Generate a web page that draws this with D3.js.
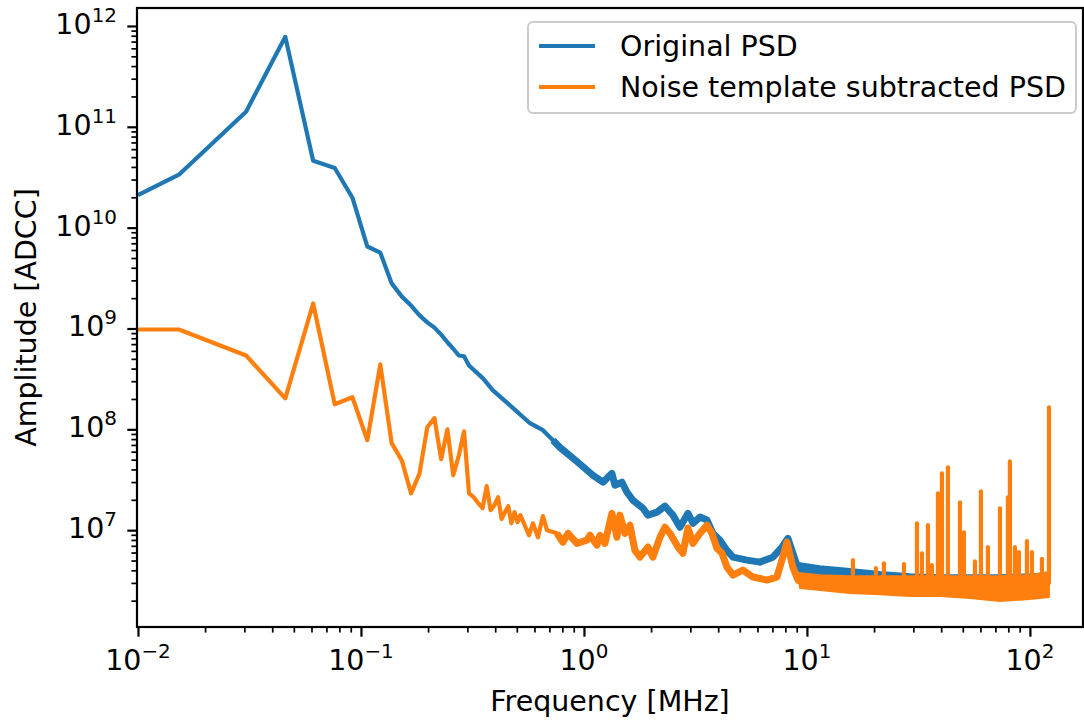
<!DOCTYPE html>
<html>
<head>
<meta charset="utf-8">
<script src="https://cdn.jsdelivr.net/npm/d3@7"></script>
<style>
body { margin: 0; background: #fff; }
svg { display: block; }
text { font-family: "DejaVu Sans", sans-serif; fill: #000; }
</style>
</head>
<body>
<div id="chart"></div>
<script>
// ---- data ----
var seriesNames = ["Original PSD", "Noise template subtracted PSD"];

var blueFreq = [0.01, 0.01526, 0.03052, 0.04578, 0.06104, 0.0763, 0.09155, 0.1068, 0.1221, 0.1373,
    0.1526, 0.1678, 0.1831, 0.1984, 0.2136, 0.2289, 0.2441, 0.2594, 0.2747, 0.2899,
    0.3052, 0.3525, 0.3907, 0.4659, 0.5726, 0.6548, 0.7261, 0.7806, 0.839, 0.94,
    1.098, 1.217, 1.335, 1.377, 1.481, 1.559, 1.658, 1.839, 1.936, 2.126,
    2.308, 2.506, 2.695, 2.927, 3.083, 3.313, 3.561, 3.788, 4.073, 4.378,
    4.658, 5.38, 6.156, 7.04, 7.73, 8.22, 8.65, 9.11, 10.0, 11.44, 20, 60, 121.7];
var blueAmp = [2.1e10, 3.35e10, 1.41e11, 7.8e11, 4.6e10, 3.9e10, 1.98e10, 6.5e9, 5.65e9, 2.8e9,
    2.07e9, 1.69e9, 1.35e9, 1.15e9, 1.02e9, 8.7e8, 7.3e8, 6.3e8, 5.4e8, 5.3e8,
    4.3e8, 3.2e8, 2.43e8, 1.73e8, 1.15e8, 9.8e7, 7.8e7, 6.6e7, 5.8e7, 4.7e7,
    3.5e7, 2.99e7, 3.66e7, 2.79e7, 2.99e7, 2.38e7, 1.98e7, 1.65e7, 1.41e7, 1.51e7,
    1.73e7, 1.41e7, 1.07e7, 1.47e7, 1.17e7, 1.35e7, 1.26e7, 9.3e6, 7.96e6, 6.3e6,
    5.4e6, 5.05e6, 4.82e6, 5.4e6, 6.8e6, 8.3e6, 5.9e6, 4.2e6, 4.02e6, 3.84e6, 3.43e6, 3.12e6, 3.2e6];

var orangeFreq = [0.01, 0.01526, 0.03052, 0.04578, 0.06104, 0.0763, 0.09155, 0.1068, 0.1221, 0.1373,
    0.1526, 0.1678, 0.1831, 0.1984, 0.2136, 0.2289, 0.2441, 0.2594, 0.2747, 0.2899,
    0.3052, 0.3204, 0.3357, 0.351, 0.3662, 0.3815, 0.3967, 0.412, 0.4272, 0.4425,
    0.4578, 0.473, 0.4883, 0.5035, 0.5188, 0.5667, 0.5905, 0.6218, 0.6548, 0.6825,
    0.7568, 0.8051, 0.8478, 0.9303, 1.031, 1.064, 1.144, 1.18, 1.242, 1.335,
    1.406, 1.45, 1.527, 1.608, 1.693, 1.783, 1.936, 2.039, 2.192, 2.308,
    2.431, 2.64, 2.779, 2.927, 3.083, 3.313, 3.561, 3.75, 3.949, 4.159,
    4.378, 4.658, 5.164, 5.727, 6.616, 7.336, 7.726, 8.136, 8.65, 9.11, 10.0, 20, 60, 121.7];
var orangeAmp = [9.77e8, 9.77e8, 5.4e8, 2.03e8, 1.77e9, 1.77e8, 2.08e8, 7.8e7, 4.4e8, 7.3e7,
    4.9e7, 2.32e7, 3.66e7, 1.05e8, 1.29e8, 5.05e7, 1.0e8, 3.5e7, 5.5e7, 9.55e7,
    2.32e7, 2.12e7, 1.85e7, 1.65e7, 2.73e7, 1.58e7, 1.77e7, 2.12e7, 1.29e7, 1.51e7,
    1.73e7, 1.17e7, 1.51e7, 1.2e7, 1.41e7, 8.9e6, 1.17e7, 8.5e6, 1.38e7, 1.0e7,
    9.3e6, 7.6e6, 9.3e6, 7.4e6, 7.96e6, 8.9e6, 7.1e6, 8.9e6, 7.4e6, 1.47e7,
    8.5e6, 1.41e7, 9.3e6, 1.12e7, 6.3e6, 5.4e6, 6.8e6, 5.4e6, 8.5e6, 1.07e7,
    9.3e6, 6.8e6, 5.9e6, 1.05e7, 7.4e6, 9.3e6, 1.12e7, 9.3e6, 6.6e6, 5.9e6,
    4.3e6, 3.58e6, 4.02e6, 3.43e6, 3.2e6, 3.43e6, 5.05e6, 7.6e6, 4.3e6, 3.2e6, 2.85e6, 2.86e6, 2.73e6, 2.86e6];

// spread of the dense trace above ~9 MHz
var bandFreq = [9.30, 11.44, 15.59, 21.26, 28.97, 39.49, 53.81, 73.39, 100, 121.7];
var blueBandHi = [4.71e6, 4.4e6, 4.11e6, 3.84e6, 3.66e6, 3.58e6, 3.58e6, 3.58e6, 3.66e6, 3.75e6];
var blueBandLo = [3.75e6, 3.2e6, 3.05e6, 2.92e6, 2.79e6, 2.67e6, 2.67e6, 2.67e6, 2.73e6, 2.79e6];
var orangeBandHi = [3.75e6, 3.58e6, 3.5e6, 3.5e6, 3.5e6, 3.5e6, 3.5e6, 3.5e6, 3.58e6, 3.84e6];
var orangeBandLo = [2.67e6, 2.55e6, 2.38e6, 2.32e6, 2.22e6, 2.22e6, 2.12e6, 1.98e6, 2.08e6, 2.17e6];
var noisyFrom = 0.7;   // above this the trace is a fuzzy, wider stroke

// narrow lines in the subtracted PSD
var spikeFreq = [16.08, 20.39, 22.14, 27.23, 31.14, 32.79, 34.88, 36.35, 38.68, 40.31, 42.88, 48.55, 50.58,
    56.68, 60.30, 64.80, 73.39, 79.66, 81.32, 85.63, 89.27, 96.94, 102.1, 113.2, 121.7];
var spikeAmp = [5.05e6, 4.2e6, 4.7e6, 4.6e6, 1.17e7, 5.9e6, 1.12e7, 4.5e6, 2.32e7, 3.66e7, 4.2e7, 1.89e7, 9.5e6,
    4.9e6, 2.43e7, 6.8e6, 1.65e7, 2.12e7, 4.8e7, 6.8e6, 6.05e6, 7.8e6, 6.05e6, 5.2e6, 1.65e8];
var spikeBase = 3.0e6;

var xLimits = [0.0099, 173];
var yLimits = [1.096e6, 1.507e12];
var xMajor = [1e-2, 1e-1, 1e0, 1e1, 1e2];
var yMajor = [1e7, 1e8, 1e9, 1e10, 1e11, 1e12];

// ---- layout ----
var width = 1084, height = 721;
var plotL = 137, plotR = 1083, plotT = 8, plotB = 627;
var colors = ["#1f77b4", "#ff7f0e"];
var fs = 28.5;

var svg = d3.select("#chart").append("svg")
    .attr("width", width)
    .attr("height", height);
svg.append("rect").attr("width", width).attr("height", height).attr("fill", "#fff");

var x = d3.scaleLog().domain(xLimits).range([plotL, plotR]);
var y = d3.scaleLog().domain(yLimits).range([plotB, plotT]);

svg.append("clipPath").attr("id", "plotclip")
    .append("rect").attr("x", plotL).attr("y", plotT)
    .attr("width", plotR - plotL).attr("height", plotB - plotT);

var plot = svg.append("g").attr("clip-path", "url(#plotclip)");

function zip(a, b) { return a.map(function (d, i) { return [d, b[i]]; }); }

var line = d3.line().x(function (d) { return x(d[0]); }).y(function (d) { return y(d[1]); });
var band = d3.area()
    .x(function (d) { return x(d[0]); })
    .y0(function (d) { return y(d[1]); })
    .y1(function (d) { return y(d[2]); });

function bandRows(lo, hi) {
    return bandFreq.map(function (f, i) { return [f, lo[i], hi[i]]; });
}

function drawSeries(freq, amp, lo, hi, color) {
    var pts = zip(freq, amp);
    plot.append("path").datum(pts)
        .attr("d", line).attr("fill", "none")
        .attr("stroke", color).attr("stroke-width", 4.2)
        .attr("stroke-linejoin", "round");
    plot.append("path").datum(pts.filter(function (d) { return d[0] >= noisyFrom; }))
        .attr("d", line).attr("fill", "none")
        .attr("stroke", color).attr("stroke-width", 7)
        .attr("stroke-linejoin", "round");
    plot.append("path").datum(bandRows(lo, hi))
        .attr("d", band).attr("fill", color)
        .attr("stroke", color).attr("stroke-width", 2)
        .attr("stroke-linejoin", "round");
}

drawSeries(blueFreq, blueAmp, blueBandLo, blueBandHi, colors[0]);
drawSeries(orangeFreq, orangeAmp, orangeBandLo, orangeBandHi, colors[1]);

plot.selectAll(".spike").data(zip(spikeFreq, spikeAmp)).enter()
    .append("line").attr("class", "spike")
    .attr("x1", function (d) { return x(d[0]); })
    .attr("x2", function (d) { return x(d[0]); })
    .attr("y1", y(spikeBase))
    .attr("y2", function (d) { return y(d[1]); })
    .attr("stroke", colors[1]).attr("stroke-width", 4.2)
    .attr("stroke-linecap", "round");

// ---- axes ----
function minors(lo, hi) {
    var out = [];
    for (var e = Math.floor(Math.log10(lo)); e <= Math.ceil(Math.log10(hi)); e++) {
        for (var m = 2; m <= 9; m++) {
            var v = m * Math.pow(10, e);
            if (v >= lo && v <= hi) out.push(v);
        }
    }
    return out;
}

var xAxisG = svg.append("g").attr("transform", "translate(0," + plotB + ")");
var xMajG = xAxisG.append("g").call(d3.axisBottom(x).tickValues(xMajor).tickSize(9.7).tickFormat(""));
var xMinG = xAxisG.append("g").call(d3.axisBottom(x).tickValues(minors(xLimits[0], xLimits[1])).tickSize(5.6).tickFormat(""));
var yAxisG = svg.append("g").attr("transform", "translate(" + plotL + ",0)");
var yMajG = yAxisG.append("g").call(d3.axisLeft(y).tickValues(yMajor).tickSize(9.7).tickFormat(""));
var yMinG = yAxisG.append("g").call(d3.axisLeft(y).tickValues(minors(yLimits[0], yLimits[1])).tickSize(5.6).tickFormat(""));
svg.selectAll(".domain").remove();
xMajG.selectAll(".tick line").attr("stroke-width", 2.2);
yMajG.selectAll(".tick line").attr("stroke-width", 2.2);
xMinG.selectAll(".tick line").attr("stroke-width", 1.7);
yMinG.selectAll(".tick line").attr("stroke-width", 1.7);
svg.selectAll(".tick text").remove();

function expLabel(sel, v) {
    var e = Math.round(Math.log10(v));
    sel.append("tspan").text("10");
    sel.append("tspan").attr("dy", -12).attr("font-size", fs * 0.7)
        .text(e < 0 ? "\u2212" + (-e) : String(e));
}

xMajor.forEach(function (v) {
    var t = svg.append("text").attr("x", x(v)).attr("y", 670)
        .attr("text-anchor", "middle").attr("font-size", fs);
    expLabel(t, v);
});
yMajor.forEach(function (v) {
    var t = svg.append("text").attr("x", 117).attr("y", y(v) + 8)
        .attr("text-anchor", "end").attr("font-size", fs);
    expLabel(t, v);
});

svg.append("text").attr("x", (plotL + plotR) / 2).attr("y", 711)
    .attr("text-anchor", "middle").attr("font-size", fs)
    .text("Frequency [MHz]");
svg.append("text")
    .attr("transform", "translate(36," + ((plotT + plotB) / 2) + ") rotate(-90)")
    .attr("text-anchor", "middle").attr("font-size", fs)
    .text("Amplitude [ADCC]");

// spines
svg.append("rect").attr("x", plotL).attr("y", plotT)
    .attr("width", plotR - plotL).attr("height", plotB - plotT)
    .attr("fill", "none").attr("stroke", "#000").attr("stroke-width", 2.2);

// ---- legend ----
var leg = svg.append("g");
leg.append("rect").attr("x", 528).attr("y", 22).attr("width", 548).attr("height", 91)
    .attr("rx", 5).attr("fill", "#fff").attr("fill-opacity", 0.8)
    .attr("stroke", "#cccccc").attr("stroke-width", 2);
seriesNames.forEach(function (name, i) {
    var cy = 46 + i * 41;
    leg.append("line").attr("x1", 539).attr("x2", 595).attr("y1", cy).attr("y2", cy)
        .attr("stroke", colors[i]).attr("stroke-width", 4.2);
    leg.append("text").attr("x", 620).attr("y", cy + 10).attr("font-size", fs).text(name);
});
</script>
</body>
</html>
